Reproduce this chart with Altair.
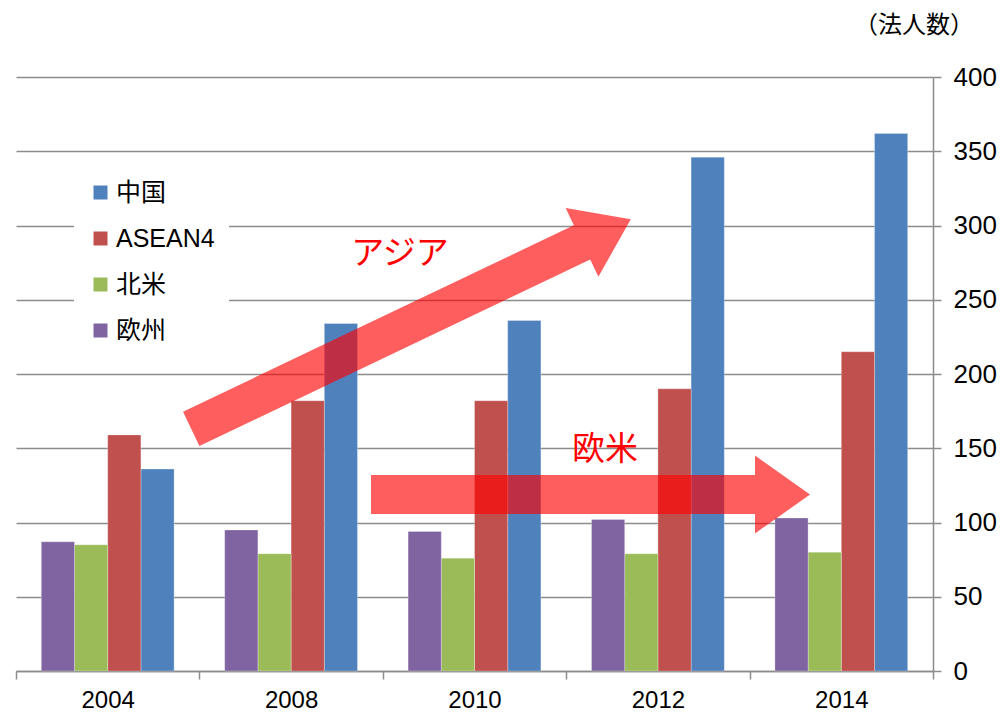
import altair as alt
import pandas as pd

years = ["2004", "2008", "2010", "2012", "2014"]
china = [136, 234, 236, 346, 362]
asean = [159, 182, 182, 190, 215]
north_america = [85, 79, 76, 79, 80]
europe = [87, 95, 94, 102, 103]

legend_order = ["中国", "ASEAN4", "北米", "欧州"]
bar_order = ["欧州", "北米", "ASEAN4", "中国"]
colors = ["#4F81BD", "#C0504D", "#9BBB59", "#8064A2"]

rows = []
for name, vals in [("中国", china), ("ASEAN4", asean), ("北米", north_america), ("欧州", europe)]:
    for y, v in zip(years, vals):
        rows.append({"year": y, "region": name, "value": v})
df = pd.DataFrame(rows)

FONT = "Liberation Sans, Arial, 'Noto Sans CJK JP'"

bars = alt.Chart(df).mark_bar(stroke="#ffffff", strokeOpacity=0.35, strokeWidth=0.8).encode(
    x=alt.X("year:N", sort=years,
            scale=alt.Scale(paddingInner=0, paddingOuter=0),
            axis=alt.Axis(title=None, labelAngle=0, tickBand="extent", labelFontSize=24,
                          labelFont=FONT, labelColor="#000000", domainColor="#8c8c8c",
                          domainWidth=1.5, tickColor="#8c8c8c", tickWidth=1.5, tickSize=8,
                          labelPadding=9, grid=False)),
    xOffset=alt.XOffset("region:N", sort=bar_order,
                        scale=alt.Scale(paddingInner=0, paddingOuter=0.762)),
    y=alt.Y("value:Q", scale=alt.Scale(domain=[0, 400]),
            axis=alt.Axis(title=None, orient="right", values=list(range(0, 401, 50)),
                          labelFontSize=26, labelFont=FONT, labelColor="#000000",
                          domainColor="#8c8c8c", domainWidth=1.5, tickColor="#8c8c8c",
                          tickWidth=1.5, tickSize=8, labelPadding=12, grid=True,
                          gridColor="#8c8c8c", gridWidth=1.5)),
    color=alt.Color("region:N",
                    scale=alt.Scale(domain=legend_order, range=colors),
                    legend=alt.Legend(title=None, orient="none", legendX=58, legendY=89,
                                      fillColor="white", padding=14, symbolType="square",
                                      symbolSize=196, symbolStrokeWidth=0, labelFontSize=25,
                                      labelFont=FONT, labelColor="#000000", rowPadding=20,
                                      labelOffset=3, direction="vertical")),
)

one = pd.DataFrame({"k": [0]})

# Arrow shapes (normalized to [-1,1])
def arrow_path(half_len, shaft_hw, head_hw, head_base):
    R = half_len
    pts = [(-half_len, -shaft_hw), (head_base, -shaft_hw), (head_base, -head_hw),
           (half_len, 0), (head_base, head_hw), (head_base, shaft_hw), (-half_len, shaft_hw)]
    s = "M" + " L".join(f"{x / R:.4f},{y / R:.4f}" for x, y in pts) + " Z"
    return s, (2 * R) ** 2

asia_path, asia_size = arrow_path(243.5, 19, 38, 189.5)
eu_path, eu_size = arrow_path(219.5, 19.5, 39, 164.5)

asia_arrow = alt.Chart(one).mark_point(shape=asia_path, size=asia_size, angle=334.5,
                                       filled=True, fill="#FF0000", opacity=0.63,
                                       strokeWidth=0).encode(
    x=alt.value(395), y=alt.value(247))
eu_arrow = alt.Chart(one).mark_point(shape=eu_path, size=eu_size, angle=0,
                                     filled=True, fill="#FF0000", opacity=0.63,
                                     strokeWidth=0).encode(
    x=alt.value(574.5), y=alt.value(417.5))

asia_text = alt.Chart(one).mark_text(text="アジア", fontSize=33, color="#FF0000",
                                     font=FONT, align="center", baseline="middle").encode(
    x=alt.value(384), y=alt.value(177))
eu_text = alt.Chart(one).mark_text(text="欧米", fontSize=33, color="#FF0000",
                                   font=FONT, align="center", baseline="middle").encode(
    x=alt.value(589), y=alt.value(373))
unit_text = alt.Chart(one).mark_text(text="（法人数）", fontSize=24, color="#000000",
                                     font=FONT, align="right", baseline="middle").encode(
    x=alt.value(958), y=alt.value(-51))

chart = alt.layer(bars, asia_arrow, eu_arrow, asia_text, eu_text, unit_text).properties(
    width=917, height=594,
    padding={"left": 8, "top": 69, "right": 64, "bottom": 43},
    autosize=alt.AutoSizeParams(type="none"),
).configure_view(stroke=None)

chart.save("out.html", embed_options={"renderer": "svg", "actions": False})
